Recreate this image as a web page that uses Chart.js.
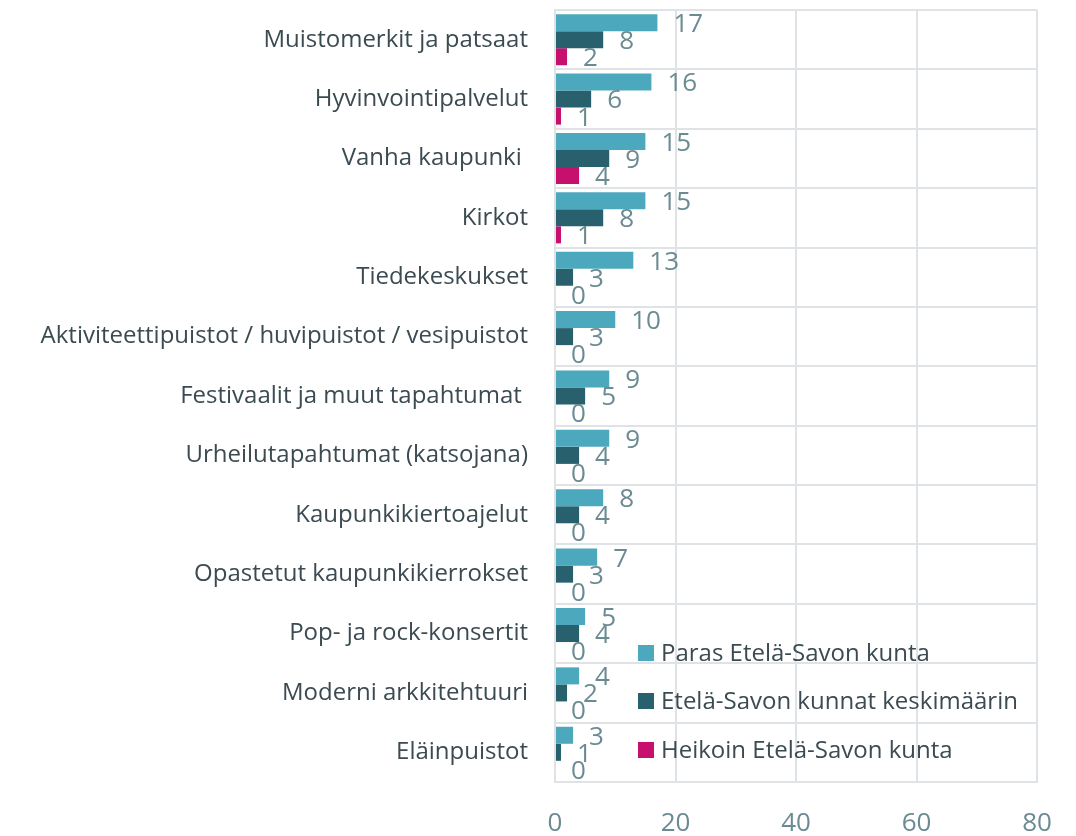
<!DOCTYPE html>
<html>
<head>
<meta charset="utf-8">
<script src="https://cdn.jsdelivr.net/npm/chart.js@4"></script>
<style>
  html, body { margin: 0; padding: 0; background: #fff; }
  #wrap { width: 1076px; height: 836px; }
</style>
</head>
<body>
<div id="wrap"><canvas id="myChart" width="1076" height="836"></canvas></div>
<script>
    // categories top to bottom
    const categories = [
        'Muistomerkit ja patsaat',
        'Hyvinvointipalvelut',
        'Vanha kaupunki ',
        'Kirkot',
        'Tiedekeskukset',
        'Aktiviteettipuistot / huvipuistot / vesipuistot',
        'Festivaalit ja muut tapahtumat ',
        'Urheilutapahtumat (katsojana)',
        'Kaupunkikiertoajelut',
        'Opastetut kaupunkikierrokset',
        'Pop- ja rock-konsertit',
        'Moderni arkkitehtuuri',
        'Eläinpuistot'
    ];
    const parasValues   = [17, 16, 15, 15, 13, 10, 9, 9, 8, 7, 5, 4, 3];
    const keskiValues   = [8, 6, 9, 8, 3, 3, 5, 4, 4, 3, 4, 2, 1];
    const heikoinValues = [2, 1, 4, 1, 0, 0, 0, 0, 0, 0, 0, 0, 0];
    const seriesNames = ['Paras Etelä-Savon kunta', 'Etelä-Savon kunnat keskimäärin', 'Heikoin Etelä-Savon kunta'];
    const xTicks = [0, 20, 40, 60, 80];

    const FONT = '"Open Sans"';
    const gridColor = '#dfe3e6';

    // value labels next to each bar
    const valueLabels = {
        id: 'valueLabels',
        afterDatasetsDraw(chart) {
            const ctx = chart.ctx;
            ctx.save();
            ctx.font = '26px ' + FONT;
            ctx.fillStyle = '#6b8b93';
            ctx.textAlign = 'left';
            ctx.textBaseline = 'middle';
            chart.data.datasets.forEach((ds, i) => {
                const meta = chart.getDatasetMeta(i);
                meta.data.forEach((bar, j) => {
                    ctx.fillText(String(ds.data[j]), bar.x + 16, bar.y + 2);
                });
            });
            ctx.restore();
        }
    };

    // legend inside the plot, lower part
    const innerLegend = {
        id: 'innerLegend',
        afterDraw(chart) {
            const ctx = chart.ctx;
            const area = chart.chartArea;
            const x = area.left + 83;
            const rows = [area.bottom - 129, area.bottom - 81, area.bottom - 32];
            ctx.save();
            ctx.font = '24px ' + FONT;
            ctx.textAlign = 'left';
            ctx.textBaseline = 'middle';
            chart.data.datasets.forEach((ds, i) => {
                const y = rows[i];
                ctx.fillStyle = ds.backgroundColor;
                ctx.fillRect(x, y - 8, 16, 16);
                ctx.fillStyle = '#3b4b51';
                ctx.fillText(ds.label, x + 23, y + 1);
            });
            ctx.restore();
        }
    };

    function getChart() {
        const ctx = document.getElementById('myChart');
        new Chart(ctx, {
            type: 'bar',
            data: {
                labels: categories,
                datasets: [
                    { label: seriesNames[0], data: parasValues, backgroundColor: '#4ba8bd' },
                    { label: seriesNames[1], data: keskiValues, backgroundColor: '#28616d' },
                    { label: seriesNames[2], data: heikoinValues, backgroundColor: '#c70f6e' }
                ]
            },
            options: {
                indexAxis: 'y',
                responsive: false,
                animation: false,
                layout: { padding: { top: 10, right: 39, left: 0, bottom: 0 } },
                datasets: {
                    bar: { categoryPercentage: 0.86, barPercentage: 1.0 }
                },
                scales: {
                    x: {
                        min: 0,
                        max: 80,
                        afterBuildTicks: (scale) => { scale.ticks = xTicks.map(v => ({ value: v })); },
                        afterFit: (scale) => { scale.height = 54; scale.paddingLeft = 0; scale.paddingRight = 0; },
                        grid: { color: gridColor, lineWidth: 2, drawTicks: false },
                        border: { color: gridColor, width: 2 },
                        ticks: {
                            padding: 26,
                            color: '#6b8b93',
                            font: { family: FONT, size: 26 }
                        }
                    },
                    y: {
                        afterFit: (scale) => { scale.width = 555; scale.paddingTop = 0; scale.paddingBottom = 0; },
                        grid: { color: gridColor, lineWidth: 2, drawTicks: false },
                        border: { color: gridColor, width: 2 },
                        ticks: {
                            padding: 27,
                            color: '#3b4b51',
                            font: { family: FONT, size: 24 }
                        }
                    }
                },
                plugins: {
                    legend: { display: false },
                    tooltip: { enabled: false }
                }
            },
            plugins: [valueLabels, innerLegend]
        });
    }

    getChart();
</script>
</body>
</html>
